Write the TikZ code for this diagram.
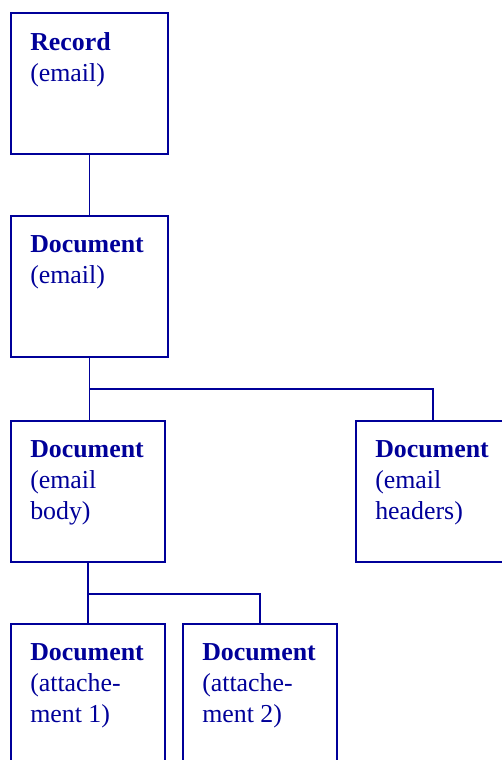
\documentclass[tikz,border=0pt]{standalone}
\usepackage{fontspec}
\setmainfont{Liberation Serif}
\usetikzlibrary{positioning}
\definecolor{navy}{RGB}{0,0,153}

\begin{document}
\begin{tikzpicture}[x=0.75pt, y=-0.75pt,
		box/.style={draw=navy, line width=1.5pt, anchor=north west, inner sep=0pt,
			minimum width=115.5pt, minimum height=105.75pt},
		wide/.style={minimum width=117.75pt},
		tall/.style={minimum height=130pt},
		lbl/.style={anchor=north west, inner sep=15pt, align=left, text=navy,
			font=\fontsize{19.4}{23.5}\selectfont},
		link/.style={draw=navy, line width=1.4pt}]
				\useasboundingbox (0, 0) rectangle (501, 760);
				% boxes
				\node[box, wide, label={[lbl]north west:{\textbf{Record}\\(email)}}] (rec) at (10, 12) {};
				\node[box, wide, label={[lbl]north west:{\textbf{Document}\\(email)}}] (doc) at (10, 215) {};
				\node[box, label={[lbl]north west:{\textbf{Document}\\(email\\body)}}] (body) at (10, 420) {};
				\node[box, label={[lbl]north west:{\textbf{Document}\\(email\\headers)}}] (hdr) at (355, 420) {};
				\node[box, tall, label={[lbl]north west:{\textbf{Document}\\(attache-\\ment 1)}}] (att1) at (10, 623) {};
				\node[box, tall, label={[lbl]north west:{\textbf{Document}\\(attache-\\ment 2)}}] (att2) at (182, 623) {};
				% links
				\draw[link] (rec.south) -- (doc.north);
				\coordinate (fork1) at ([yshift=-23.25pt]doc.south);
				\draw[link] (doc.south) -- (fork1) -| (hdr.north);
				\draw[link] (fork1) -- (fork1 |- body.north);
				\coordinate (fork2) at ([yshift=-23.25pt]body.south);
				\draw[link] (body.south) -- (fork2) -| (att2.north);
				\draw[link] (fork2) -- (fork2 |- att1.north);
\end{tikzpicture}
\end{document}
